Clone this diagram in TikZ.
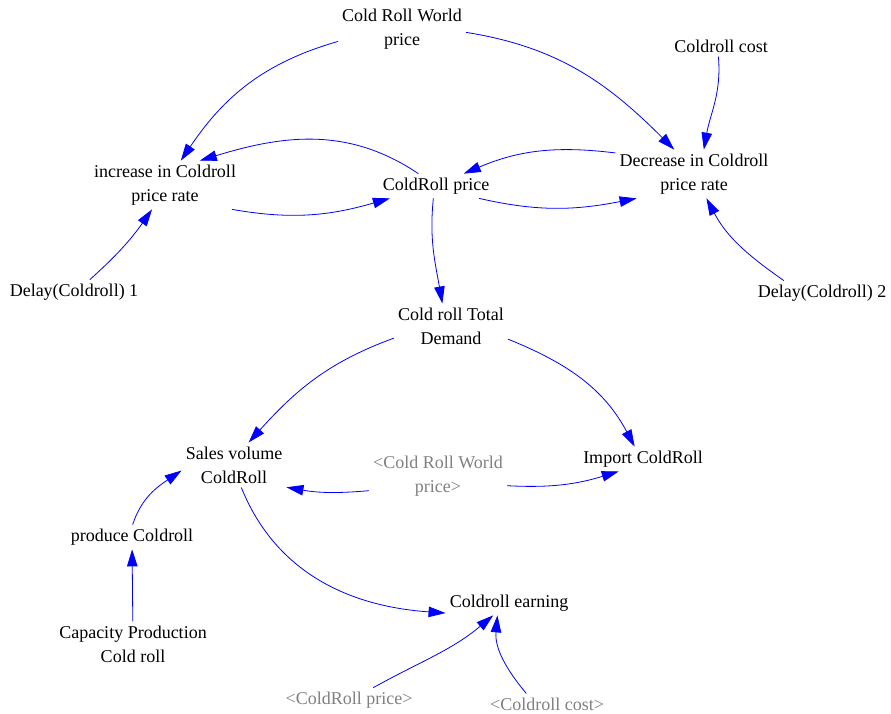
\documentclass[tikz,border=0pt]{standalone}
\usepackage{fontspec}
\setmainfont{Liberation Serif}
\usepackage{xcolor}
\usepackage{tikz}
\usetikzlibrary{arrows.meta}
\definecolor{shdgray}{RGB}{128,128,128}

\begin{document}
\begin{tikzpicture}[x=1pt,y=1pt,
      var/.style={align=center,inner sep=4pt,font=\fontsize{18}{24}\selectfont},
      shd/.style={var,text=shdgray},
      lnk/.style={draw=blue,line width=0.8pt,-{Triangle[length=17pt,width=10.5pt]}}]
    \useasboundingbox (0,0) rectangle (891,-713);
    % price loop
    \node[var] (wp)    at (402,-29)  {Cold Roll World\\price};
    \node[var] (cost)  at (721,-46)  {Coldroll cost};
    \node[var] (inc)   at (165,-185) {increase in Coldroll\\price rate};
    \node[var] (price) at (436,-186) {ColdRoll price};
    \node[var] (dec)   at (694,-174) {Decrease in Coldroll\\price rate};
    \node[var] (d1)    at (74,-292)  {Delay(Coldroll) 1};
    \node[var] (d2)    at (822,-293) {Delay(Coldroll) 2};
    % demand and sales
    \node[var] (dem)   at (451,-326) {Cold roll Total\\Demand};
    \node[var] (sales) at (234,-465) {Sales volume\\ColdRoll};
    \node[shd] (gwp)   at (438,-476) {<Cold Roll World\\price>};
    \node[var] (imp)   at (643,-459) {Import ColdRoll};
    \node[var] (prod)  at (132,-537) {produce Coldroll};
    \node[var] (cap)   at (133,-644) {Capacity Production\\Cold roll};
    \node[var] (earn)  at (509,-603) {Coldroll earning};
    \node[shd] (gprice) at (349,-700) {<ColdRoll price>};
    \node[shd] (gcost)  at (547,-704) {<Coldroll cost>};
    % links: from/anchor/out/in/to/anchor
    \foreach \a/\sa/\o/\i/\b/\eb in {wp/191/196/56/inc/57, wp/-3/-9/135/dec/129,
        cost/256/-85/80/dec/68, price/145/146/17/inc/35, inc/-20/-10/196/price/195,
        dec/165/173/23/price/24, price/-16/-13/191/dec/203, d1/38/42/235/inc/242,
        d2/162/145/-62/dec/-63, price/258/-96/100/dem/111, dem/192/200/48/sales/57,
        dem/-13/-22/118/imp/124, gwp/192/185/-10/sales/-23, gwp/-8/-3/197/imp/207,
        sales/-72/-68/176/earn/189, prod/87/72/214/sales/186,
        gprice/27/29/220/earn/218, gcost/153/130/-95/earn/227} {
      \draw[lnk] (\a.\sa) to[out=\o,in=\i] (\b.\eb);
    }
    \draw[lnk] (cap) -- (prod);
  \end{tikzpicture}
\end{document}
